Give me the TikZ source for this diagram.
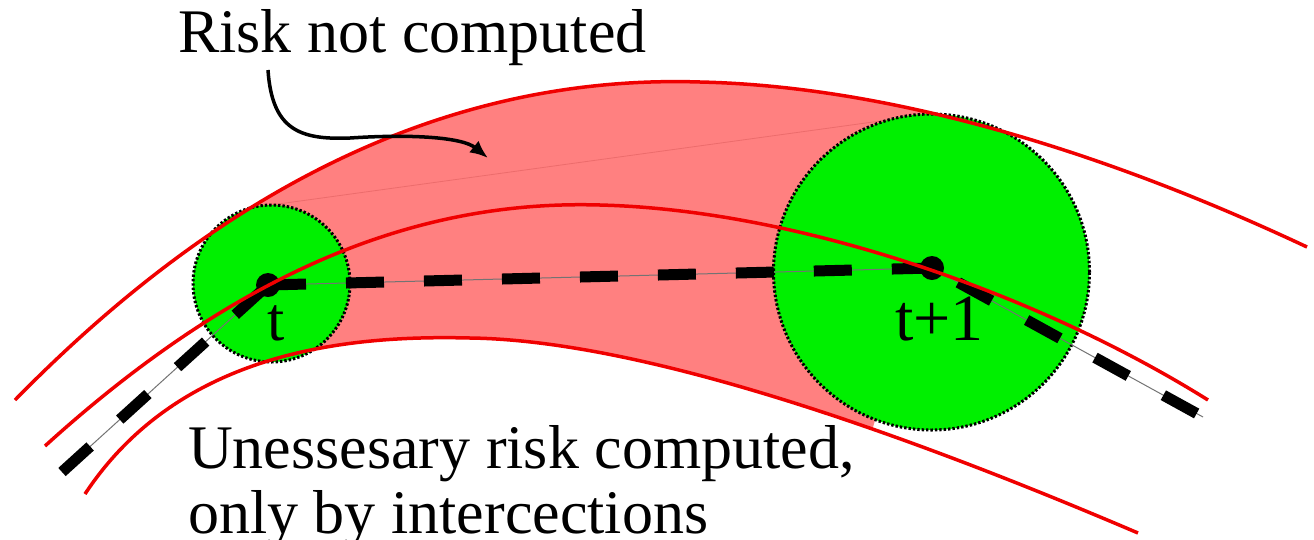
\documentclass[tikz,border=0pt]{standalone}
\usepackage{fontspec}
\setmainfont{Liberation Serif}
\usetikzlibrary{arrows.meta}
\definecolor{bandpink}{RGB}{255,128,128}
\definecolor{curvered}{RGB}{240,0,0}
\definecolor{zonegreen}{RGB}{0,240,0}
\definecolor{tanline}{RGB}{236,108,108}
\begin{document}
\begin{tikzpicture}[x=1pt,y=-1pt,
  curve/.style={draw=curvered, line width=3.5pt},
  zone/.style={circle, fill=zonegreen, draw=black, line width=3pt, dash pattern=on 2.4pt off 2pt, inner sep=0pt},
  dotmark/.style={circle, fill=black, minimum size=24pt, inner sep=0pt},
  thinline/.style={draw=black!55, line width=1pt},
  dashseg/.style={draw=black, line width=11pt, dash pattern=on 38pt off 40pt},
  pointer/.style={draw=black, line width=3.5pt, -{Latex[length=18pt,width=15pt]}},
  lbl/.style={font=\fontsize{62}{67}\selectfont, inner sep=0pt, anchor=base west}]
\useasboundingbox (0,0) rectangle (1314,539);
\fill[white] (0,0) rectangle (1314,539);

% pink band between the zones
\begin{scope}
  \clip (192,0) -- (192,146) -- (351,420) -- (855,490) -- (982,47) -- (982,0) -- cycle;
  \fill[bandpink] (15,400) .. controls (250,160) and (480,75) .. (700,82)
    .. controls (880,86) and (1090,145) .. (1307,247)
    -- (1138,533) .. controls (850,410) and (620,340) .. (470,338)
    .. controls (350,335) and (180,350) .. (85,494) -- cycle;
\end{scope}
\draw[tanline, line width=0.8pt] (271,205) -- (931,114);

% zones
\node[zone, minimum size=157pt] (zone1) at (271.5,283.5) {};
\node[zone, minimum size=316pt] (zone2) at (931.5,272) {};

% trajectory
\coordinate (p0) at (62,472);
\coordinate (t1) at (268,285);
\coordinate (t2) at (932,268);
\coordinate (p3) at (1203,417);
\draw[thinline] (p0) -- (t1) -- (t2) -- (p3);
\draw[dashseg] (p0) -- (t1);
\draw[dashseg] (t1) -- (t2);
\draw[dashseg, dash phase=48pt] (t2) -- (p3);
\node[dotmark] (dot1) at (t1) {};
\node[dotmark] (dot2) at (t2) {};

% red curves
\draw[curve] (15,400) .. controls (250,160) and (480,75) .. (700,82)
  .. controls (880,86) and (1090,145) .. (1307,247);
\draw[curve] (45,446) .. controls (250,260) and (430,200) .. (600,205)
  .. controls (800,210) and (1040,295) .. (1208,400);
\draw[curve] (85,494) .. controls (180,350) and (350,335) .. (470,338)
  .. controls (620,340) and (850,410) .. (1138,533);

% labels
\node[lbl] (tlab) at (267,340) {t};
\node[lbl, font=\fontsize{66}{70}\selectfont] (t1lab) at (895,340) {t+1};
\node[lbl] (risk) at (178,52) {Risk not computed};
\node[lbl] (unn1) at (188,468) {Unessesary risk computed,};
\node[lbl] (unn2) at (188,533) {only by intercections};

% pointer arrow
\coordinate (as) at (268,70);
\coordinate (at) at (488,158);
\draw[pointer] (as) .. controls (272,130) and (300,140) .. (350,138) .. controls (410,134) and (462,137) .. (at);
\end{tikzpicture}
\end{document}
